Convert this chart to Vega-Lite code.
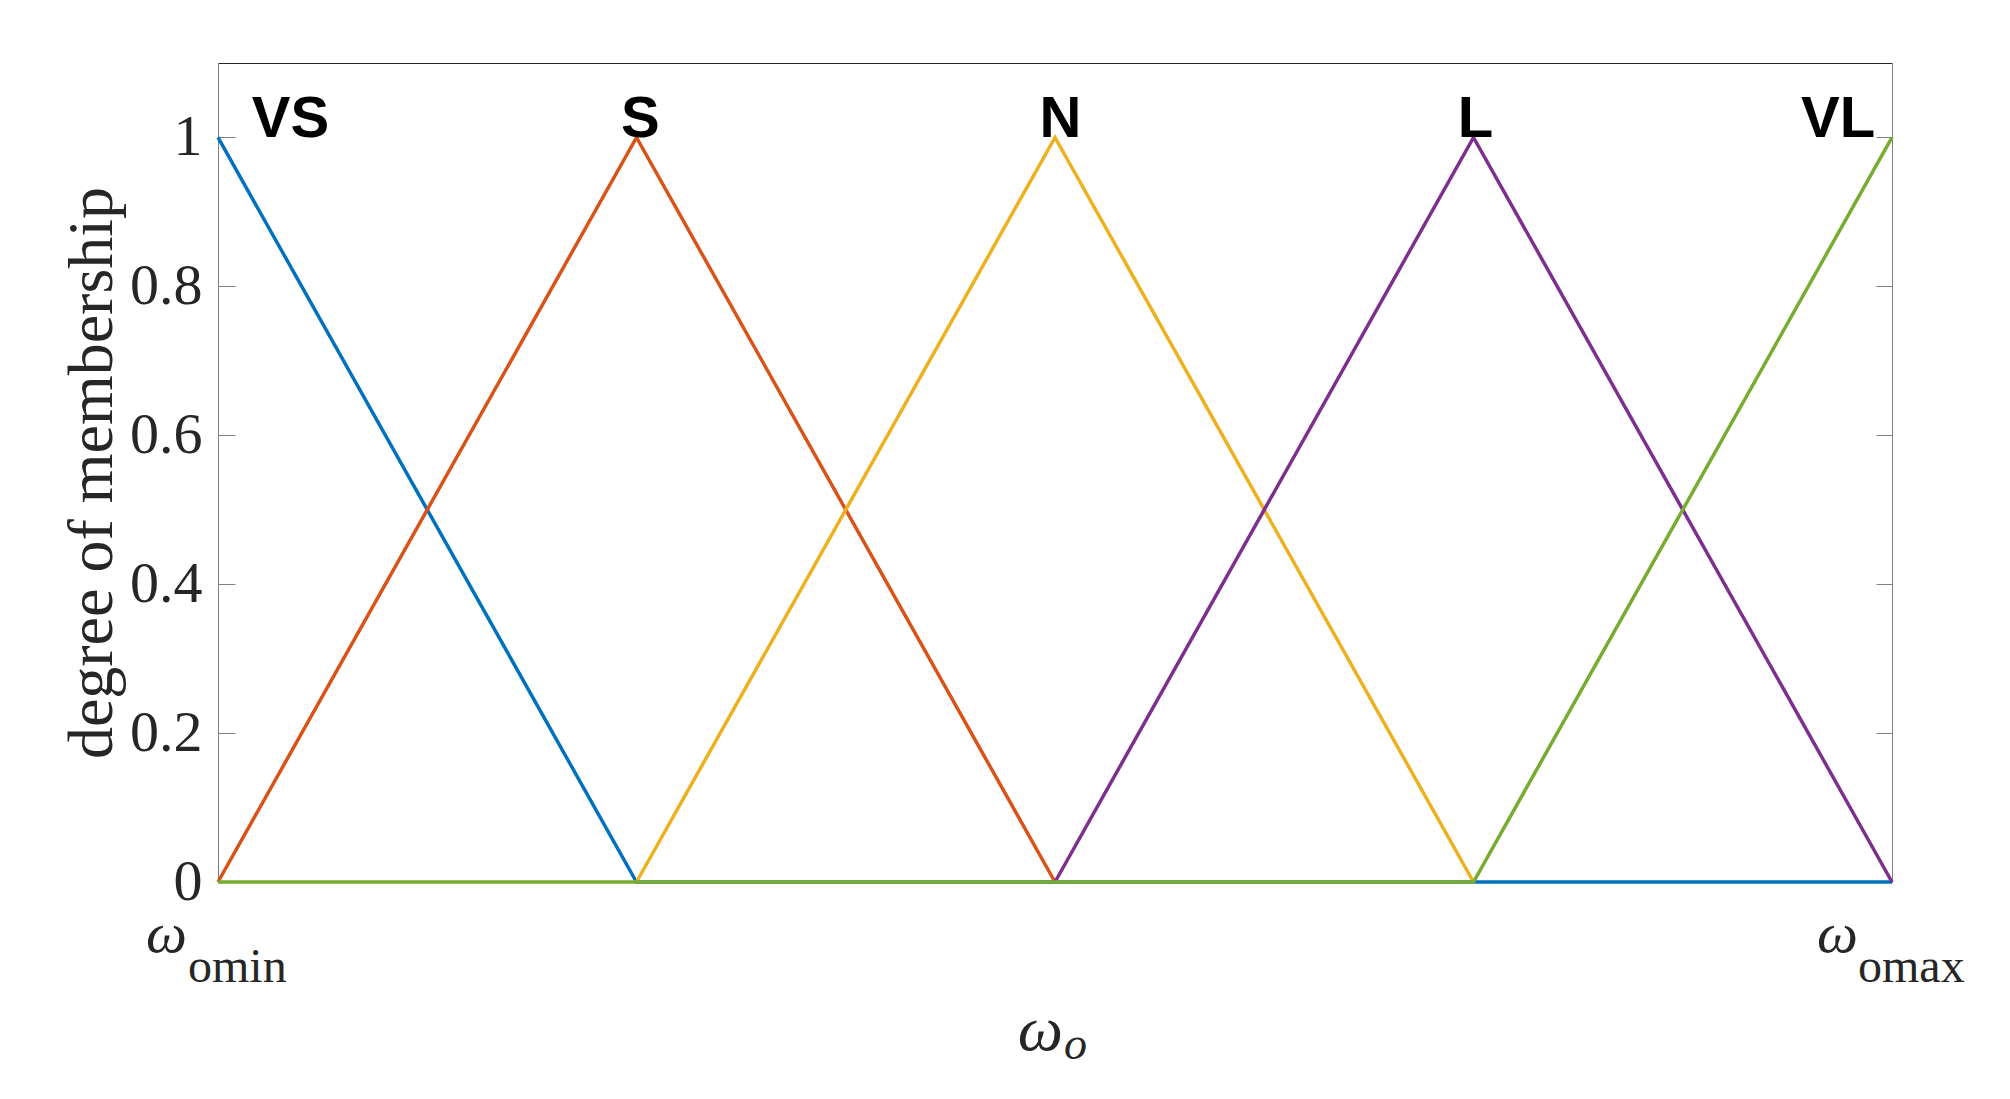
{
  "$schema": "https://vega.github.io/schema/vega-lite/v6.json",
  "width": 1674,
  "height": 819,
  "autosize": {"type": "none"},
  "padding": {"left": 218, "top": 63, "right": 118, "bottom": 217},
  "background": "white",
  "config": {"view": {"stroke": null}, "axis": {"grid": false}},
  "datasets": {
    "curves": [
      {"set": "VS", "x": 0, "mu": 1}, {"set": "VS", "x": 1, "mu": 0}, {"set": "VS", "x": 4, "mu": 0},
      {"set": "S", "x": 0, "mu": 0}, {"set": "S", "x": 1, "mu": 1}, {"set": "S", "x": 2, "mu": 0},
      {"set": "N", "x": 1, "mu": 0}, {"set": "N", "x": 2, "mu": 1}, {"set": "N", "x": 3, "mu": 0},
      {"set": "L", "x": 2, "mu": 0}, {"set": "L", "x": 3, "mu": 1}, {"set": "L", "x": 4, "mu": 0},
      {"set": "VL", "x": 0, "mu": 0}, {"set": "VL", "x": 3, "mu": 0}, {"set": "VL", "x": 4, "mu": 1}
    ],
    "names": [
      {"label": "VS", "x": 0.173, "y": 1},
      {"label": "S", "x": 1.009, "y": 1},
      {"label": "N", "x": 2.013, "y": 1},
      {"label": "L", "x": 3.005, "y": 1},
      {"label": "VL", "x": 3.871, "y": 1}
    ],
    "ticklabels": [
      {"x": 0, "sym": "ω", "sub": "omin"},
      {"x": 4, "sym": "ω", "sub": "omax"}
    ],
    "xtitle": [
      {"x": 2, "sym": "ω", "sub": "o"}
    ]
  },
  "layer": [
    {
      "data": {"name": "curves"},
      "mark": {"type": "line", "strokeWidth": 3.5, "clip": false},
      "encoding": {
        "x": {"field": "x", "type": "quantitative", "scale": {"domain": [0, 4], "nice": false, "zero": false},
          "axis": {"orient": "bottom", "labels": false, "ticks": false, "domainColor": "#262626", "domainWidth": 1, "title": null}},
        "y": {"field": "mu", "type": "quantitative", "scale": {"domain": [0, 1.1], "nice": false},
          "axis": {"orient": "left", "values": [0, 0.2, 0.4, 0.6, 0.8, 1], "format": "~g",
            "labelFont": "Liberation Serif", "labelFontSize": 58, "labelColor": "#262626",
            "labelPadding": 33, "labelFlush": false, "labelOverlap": false, "labelBound": false,
            "tickSize": -17, "tickColor": "#808080", "tickWidth": 1,
            "domainColor": "#808080", "domainWidth": 1,
            "title": "degree of membership", "titleFont": "Liberation Serif", "titleFontSize": 64,
            "titleFontWeight": "normal", "titleColor": "#262626", "titlePadding": 18, "titleBaseline": "alphabetic"}},
        "color": {"field": "set", "type": "nominal",
          "scale": {"domain": ["VS", "S", "N", "L", "VL"], "range": ["#0072BD", "#D95319", "#EDB120", "#7E2F8E", "#77AC30"]},
          "legend": null}
      }
    },
    {
      "data": {"name": "names"},
      "mark": {"type": "text", "font": "Liberation Sans", "fontWeight": "bold", "fontSize": 58, "color": "#000000", "align": "center", "baseline": "alphabetic"},
      "encoding": {
        "x": {"field": "x", "type": "quantitative", "scale": {"domain": [0, 4], "nice": false, "zero": false},
          "axis": {"orient": "top", "labels": false, "ticks": false, "domainColor": "#262626", "domainWidth": 1, "title": null}},
        "y": {"field": "y", "type": "quantitative", "scale": {"domain": [0, 1.1], "nice": false},
          "axis": {"orient": "right", "values": [0, 0.2, 0.4, 0.6, 0.8, 1], "labels": false,
            "tickSize": -16, "tickColor": "#808080", "tickWidth": 1,
            "domainColor": "#808080", "domainWidth": 1, "title": null}},
        "text": {"field": "label"}
      }
    },
    {
      "data": {"name": "ticklabels"},
      "transform": [{"filter": "datum.x == 0"}],
      "mark": {"type": "text", "font": "Liberation Serif", "fontStyle": "italic", "fontSize": 58, "color": "#262626", "align": "right", "baseline": "alphabetic", "dx": -31, "dy": 70},
      "encoding": {
        "x": {"field": "x", "type": "quantitative", "scale": {"domain": [0, 4], "nice": false, "zero": false}, "axis": null},
        "y": {"datum": 0, "type": "quantitative", "scale": {"domain": [0, 1.1], "nice": false}, "axis": null},
        "text": {"field": "sym"}
      }
    },
    {
      "data": {"name": "ticklabels"},
      "transform": [{"filter": "datum.x == 0"}],
      "mark": {"type": "text", "font": "Liberation Serif", "fontSize": 48, "color": "#262626", "align": "left", "baseline": "alphabetic", "dx": -30, "dy": 100},
      "encoding": {
        "x": {"field": "x", "type": "quantitative", "scale": {"domain": [0, 4], "nice": false, "zero": false}, "axis": null},
        "y": {"datum": 0, "type": "quantitative", "scale": {"domain": [0, 1.1], "nice": false}, "axis": null},
        "text": {"field": "sub"}
      }
    },
    {
      "data": {"name": "ticklabels"},
      "transform": [{"filter": "datum.x == 4"}],
      "mark": {"type": "text", "font": "Liberation Serif", "fontStyle": "italic", "fontSize": 58, "color": "#262626", "align": "right", "baseline": "alphabetic", "dx": -34, "dy": 70},
      "encoding": {
        "x": {"field": "x", "type": "quantitative", "scale": {"domain": [0, 4], "nice": false, "zero": false}, "axis": null},
        "y": {"datum": 0, "type": "quantitative", "scale": {"domain": [0, 1.1], "nice": false}, "axis": null},
        "text": {"field": "sym"}
      }
    },
    {
      "data": {"name": "ticklabels"},
      "transform": [{"filter": "datum.x == 4"}],
      "mark": {"type": "text", "font": "Liberation Serif", "fontSize": 48, "color": "#262626", "align": "left", "baseline": "alphabetic", "dx": -34, "dy": 100},
      "encoding": {
        "x": {"field": "x", "type": "quantitative", "scale": {"domain": [0, 4], "nice": false, "zero": false}, "axis": null},
        "y": {"datum": 0, "type": "quantitative", "scale": {"domain": [0, 1.1], "nice": false}, "axis": null},
        "text": {"field": "sub"}
      }
    },
    {
      "data": {"name": "xtitle"},
      "mark": {"type": "text", "font": "Liberation Serif", "fontStyle": "italic", "fontSize": 64, "color": "#262626", "align": "right", "baseline": "alphabetic", "dx": 8, "dy": 168},
      "encoding": {
        "x": {"field": "x", "type": "quantitative", "scale": {"domain": [0, 4], "nice": false, "zero": false}, "axis": null},
        "y": {"datum": 0, "type": "quantitative", "scale": {"domain": [0, 1.1], "nice": false}, "axis": null},
        "text": {"field": "sym"}
      }
    },
    {
      "data": {"name": "xtitle"},
      "mark": {"type": "text", "font": "Liberation Serif", "fontStyle": "italic", "fontSize": 46, "color": "#262626", "align": "left", "baseline": "alphabetic", "dx": 9, "dy": 177},
      "encoding": {
        "x": {"field": "x", "type": "quantitative", "scale": {"domain": [0, 4], "nice": false, "zero": false}, "axis": null},
        "y": {"datum": 0, "type": "quantitative", "scale": {"domain": [0, 1.1], "nice": false}, "axis": null},
        "text": {"field": "sub"}
      }
    }
  ],
  "resolve": {"axis": {"x": "independent", "y": "independent"}}
}
